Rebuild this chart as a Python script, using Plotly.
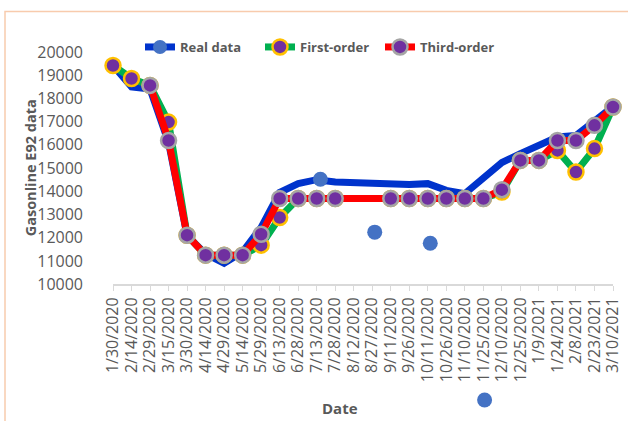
import plotly.graph_objects as go

dates = ['2020-01-30', '2020-02-14', '2020-02-29', '2020-03-15', '2020-03-30', '2020-04-14',
         '2020-04-29', '2020-05-14', '2020-05-29', '2020-06-13', '2020-06-28', '2020-07-13',
         '2020-07-28', '2020-08-12', '2020-08-27', '2020-09-11', '2020-09-26', '2020-10-11',
         '2020-10-26', '2020-11-10', '2020-11-25', '2020-12-10', '2020-12-25', '2021-01-09',
         '2021-01-24', '2021-02-08', '2021-02-23', '2021-03-10']

real_data = [19420, 18500, 18400, 16100, 12100, 11300, 10900, 11390, 12450, 13950, 14330, 14500,
             14400, 14370, 14340, 14300, 14290, 14330, 14040, 13900, 14550, 15240, 15620, 15980,
             16340, 16400, 17050, 17650]

first_order = [19420, 18860, 18560, 16980, 12110, 11250, 11250, 11250, 11680, 12870, 13690, 13690,
               13690, None, None, 13690, 13690, 13690, 13690, 13690, 13690, 13970, 15330, 15330,
               15760, 14830, 15840, 17630]

third_order = [None, None, 18560, 16190, 12110, 11250, 11250, 11250, 12150, 13690, 13690, 13690,
               13690, None, None, 13690, 13690, 13690, 13690, 13690, 13690, 14070, 15330, 15330,
               16190, 16190, 16840, 17630]

real_dot_dates = ['2020-07-16', '2020-08-29', '2020-10-13', '2020-11-26']
real_dot_values = [14520, 12240, 11760, 5010]

y_ticks = [10000, 11000, 12000, 13000, 14000, 15000, 16000, 17000, 18000, 19000, 20000]

TXT = '#595959'
FONT = 'Open Sans'

# geometry (pixels)
TOP, AXIS_BOTTOM, AREA_BOTTOM = 51.5, 284.0, 415.0
LEFT, PLOT_W = 113.0, 500.0
H_AREA = AREA_BOTTOM - TOP
Y_DOM0 = (AREA_BOTTOM - AXIS_BOTTOM) / H_AREA
Y_MIN, Y_MAX = 10000, 20000
px_per_unit = (AXIS_BOTTOM - TOP) / (Y_MAX - Y_MIN)
Y2_MIN = Y_MAX - H_AREA / px_per_unit


def px_x(p):
    return (p - LEFT) / PLOT_W


def px_y(p):
    return (AREA_BOTTOM - p) / H_AREA


fig = go.Figure()

fig.add_trace(go.Scatter(
    x=dates, y=real_data, mode='lines', connectgaps=True,
    line=dict(color='#0033CC', width=7), showlegend=False, legendgroup='real'))
fig.add_trace(go.Scatter(
    x=real_dot_dates, y=real_dot_values, mode='markers', yaxis='y2',
    marker=dict(color='#4472C4', size=15), showlegend=False, legendgroup='real'))
fig.add_trace(go.Scatter(
    x=[None], y=[None], mode='lines+markers', name='Real data', legendgroup='real',
    line=dict(color='#0033CC', width=7), marker=dict(color='#4472C4', size=14)))

fig.add_trace(go.Scatter(
    x=dates, y=first_order, mode='lines+markers', name='First-order', connectgaps=True,
    cliponaxis=False,
    line=dict(color='#00B050', width=7),
    marker=dict(color='#7030A0', size=15, line=dict(color='#FFC000', width=2.5))))

fig.add_trace(go.Scatter(
    x=dates, y=third_order, mode='lines+markers', name='Third-order', connectgaps=True,
    cliponaxis=False,
    line=dict(color='#FF0000', width=7),
    marker=dict(color='#7030A0', size=15, line=dict(color='#A5A5A5', width=2.5))))

fig.update_layout(
    width=628, height=421,
    margin=dict(l=LEFT, r=628 - LEFT - PLOT_W, t=TOP, b=421 - AREA_BOTTOM, autoexpand=False),
    paper_bgcolor='white', plot_bgcolor='rgba(0,0,0,0)',
    font=dict(family=FONT, color=TXT),
    legend=dict(orientation='h', xref='container', yref='container',
                x=140 / 628, y=1 - 47 / 421, xanchor='left', yanchor='middle',
                font=dict(family=FONT, size=13, color=TXT, weight='bold'),
                bgcolor='rgba(0,0,0,0)', entrywidth=75, tracegroupgap=0),
    xaxis=dict(type='date', range=['2020-01-30', '2021-03-10'], anchor='y',
               tick0='2020-01-30', dtick=15 * 86400000, tickformat='%-m/%-d/%Y',
               tickangle=-90, tickfont=dict(size=16, color=TXT, family=FONT),
               showline=True, linecolor='#D9D9D9', linewidth=1.5,
               ticks='outside', ticklen=5, tickcolor='#D9D9D9',
               showgrid=False, zeroline=False, automargin=False),
    yaxis=dict(domain=[Y_DOM0, 1], range=[Y_MIN, Y_MAX], tickvals=y_ticks,
               ticktext=[str(v) for v in y_ticks],
               tickfont=dict(size=16, color=TXT, family=FONT),
               showline=False, ticks='', showgrid=False, zeroline=False,
               ticklabelstandoff=29, automargin=False),
    yaxis2=dict(domain=[0, 1], range=[Y2_MIN, Y_MAX], anchor='x', visible=False),
    shapes=[dict(type='rect', xref='paper', yref='paper',
                 x0=px_x(5), x1=1.1, y0=-0.2, y1=px_y(11),
                 line=dict(color='#F8CBAD', width=1.5), fillcolor='rgba(0,0,0,0)',
                 layer='below')],
    annotations=[
        dict(text='<b>Date</b>', xref='paper', yref='paper',
             x=px_x(340), y=px_y(408), yanchor='middle',
             showarrow=False, font=dict(size=15, color=TXT, family=FONT)),
        dict(text='<b>Gasonline E92 data</b>', xref='paper', yref='paper', textangle=-90,
             x=px_x(30), y=px_y(168), xanchor='center', yanchor='middle',
             showarrow=False, font=dict(size=14.5, color=TXT, family=FONT)),
    ],
)

fig.write_html('out.html', config={'displayModeBar': False},
               post_script="document.body.style.margin='0';")
